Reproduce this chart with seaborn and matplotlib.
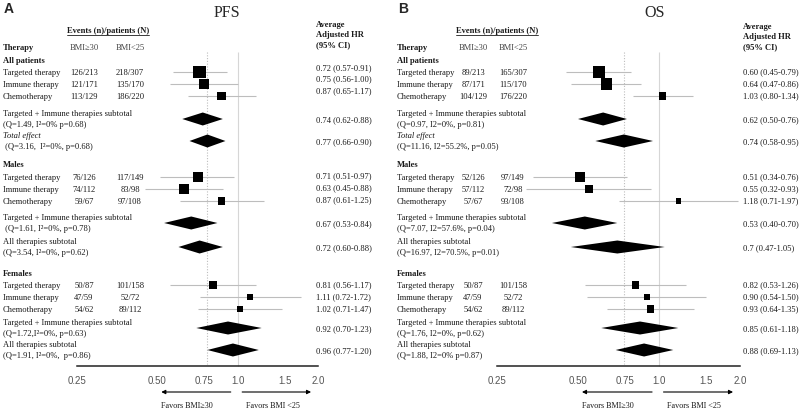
import numpy as np
import pandas as pd
import seaborn as sns
import matplotlib.pyplot as plt
from matplotlib.lines import Line2D
from matplotlib.ticker import NullLocator

# ---- data ----
therapies = ['Targeted therapy', 'Immune therapy', 'Chemotherapy']
sections = ['All patients', 'Males', 'Females']

pfs_n30 = ['126/213', '121/171', '113/129', '76/126', '74/112', '59/67', '50/87', '47/59', '54/62']
pfs_n25 = ['218/307', '135/170', '186/220', '117/149', '83/98', '97/108', '101/158', '52/72', '89/112']
pfs_est = [0.72, 0.75, 0.87, 0.71, 0.63, 0.87, 0.81, 1.11, 1.02]
pfs_lo = [0.57, 0.56, 0.65, 0.51, 0.45, 0.61, 0.56, 0.72, 0.71]
pfs_hi = [0.91, 1.00, 1.17, 0.97, 0.88, 1.25, 1.17, 1.72, 1.47]
pfs_box = [11, 9, 8, 9, 9, 6.5, 7, 5.5, 6]
pfs_sub_est = [0.74, 0.77, 0.67, 0.72, 0.92, 0.96]
pfs_sub_lo = [0.62, 0.66, 0.53, 0.60, 0.70, 0.77]
pfs_sub_hi = [0.88, 0.90, 0.84, 0.88, 1.23, 1.20]
pfs_sub_stats = ['(Q=1.49, I\u00b2=0% p=0.68)', ' (Q=3.16,  I\u00b2=0%, p=0.68)',
                 ' (Q=1.61, I\u00b2=0%, p=0.78)', '(Q=3.54, I\u00b2=0%, p=0.62)',
                 '(Q=1.72,I\u00b2=0%, p=0.63)', '(Q=1.91, I\u00b2=0%,  p=0.86)']
pfs_hr_text = ['0.72 (0.57-0.91)', '0.75 (0.56-1.00)', '0.87 (0.65-1.17)',
               '0.71 (0.51-0.97)', '0.63 (0.45-0.88)', '0.87 (0.61-1.25)',
               '0.81 (0.56-1.17)', '1.11 (0.72-1.72)', '1.02 (0.71-1.47)']
pfs_sub_text = ['0.74 (0.62-0.88)', '0.77 (0.66-0.90)', '0.67 (0.53-0.84)',
                '0.72 (0.60-0.88)', '0.92 (0.70-1.23)', '0.96 (0.77-1.20)']

os_n30 = ['89/213', '87/171', '104/129', '52/126', '57/112', '57/67', '50/87', '47/59', '54/62']
os_n25 = ['165/307', '115/170', '176/220', '97/149', '72/98', '93/108', '101/158', '52/72', '89/112']
os_est = [0.60, 0.64, 1.03, 0.51, 0.55, 1.18, 0.82, 0.90, 0.93]
os_lo = [0.45, 0.47, 0.80, 0.34, 0.32, 0.71, 0.53, 0.54, 0.64]
os_hi = [0.79, 0.86, 1.34, 0.76, 0.93, 1.97, 1.26, 1.50, 1.35]
os_box = [11, 10, 7, 9, 7, 5, 6.5, 5.5, 6.5]
os_sub_est = [0.62, 0.74, 0.53, 0.70, 0.85, 0.88]
os_sub_lo = [0.50, 0.58, 0.40, 0.47, 0.61, 0.69]
os_sub_hi = [0.76, 0.95, 0.70, 1.05, 1.18, 1.13]
os_sub_stats = ['(Q=0.97, I2=0%, p=0.81)', '(Q=11.16, I2=55.2%, p=0.05)',
                '(Q=7.07, I2=57.6%, p=0.04)', '(Q=16.97, I2=70.5%, p=0.01)',
                '(Q=1.76, I2=0%, p=0.62)', '(Q=1.88, I2=0% p=0.87)']
os_hr_text = ['0.60 (0.45-0.79)', '0.64 (0.47-0.86)', '1.03 (0.80-1.34)',
              '0.51 (0.34-0.76)', '0.55 (0.32-0.93)', '1.18 (0.71-1.97)',
              '0.82 (0.53-1.26)', '0.90 (0.54-1.50)', '0.93 (0.64-1.35)']
os_sub_text = ['0.62 (0.50-0.76)', '0.74 (0.58-0.95)', '0.53 (0.40-0.70)',
               '0.7 (0.47-1.05)', '0.85 (0.61-1.18)', '0.88 (0.69-1.13)']

sub_names = ['Targeted + Immune therapies subtotal', 'Total effect',
             'Targeted + Immune therapies subtotal', 'All therapies subtotal',
             'Targeted + Immune therapies subtotal', 'All therapies subtotal']
xticks = [0.25, 0.5, 0.75, 1.0, 1.5, 2.0]
xtick_labels = ['0.25', '0.50', '0.75', '1.0', '1.5', '2.0']

# ---- layout in pixel units (800 x 414) ----
W, H = 800, 414
section_y = [61, 165, 274]
row_y = [73, 85, 97, 178, 190, 202, 286, 298, 310]
sub_label_y = [114, 136, 218, 242, 323, 345]
axis_y = 367
pfs_hr_dy = [-5, -6, -6, -2, -2, -2, -1, -1, -1]
os_hr_dy = [-1] * 9

sns.set_style('white')
plt.rcParams['font.family'] = ['Liberation Serif', 'DejaVu Serif']
FS = 6.1
TXT = '#1a1a1a'


def fx(px):
    return px / W


def fy(py):
    return 1 - py / H


fig = plt.figure(figsize=(8, 4.14), dpi=100)


def panel(letter, title, x_title, x_lab, x_c30, x_c25, x_ev, x_hr, ax_l, ax_r, hdr_y,
          n30, n25, est, lo, hi, box, s_est, s_lo, s_hi, s_stats, hr_text, s_text, hr_dy):
    ax = fig.add_axes([fx(ax_l), 0, fx(ax_r) - fx(ax_l), 1])
    ax.set_xscale('log', base=2)
    ax.set_xlim(0.25, 2.0)
    ax.set_ylim(H, 0)

    # reference lines
    ax.vlines(1.0, 53, axis_y, color='#d6d6d6', lw=0.8)
    ax.vlines(s_est[1], 53, axis_y - 2, color='#bdbdbd', lw=0.8, linestyles=(0, (1, 1.5)))

    # study rows
    ax.hlines(row_y, lo, hi, color='#bdbdbd', lw=0.8, clip_on=False)
    df = pd.DataFrame({'hr': est, 'y': row_y})
    sizes = [(b * 1.12 * 0.72) ** 2 for b in box]
    sns.scatterplot(data=df, x='hr', y='y', marker='s', color='black', s=sizes,
                    linewidth=0, ax=ax, clip_on=False, zorder=3)

    # subtotal diamonds
    for i in range(len(s_est)):
        yc = sub_label_y[i] + 6
        ax.fill([s_lo[i], s_est[i], s_hi[i], s_est[i]], [yc, yc - 6.5, yc, yc + 6.5],
                color='black', lw=0, clip_on=False, zorder=3)

    # bottom axis
    for sp in ['top', 'left', 'right']:
        ax.spines[sp].set_visible(False)
    ax.spines['bottom'].set_position(('data', axis_y))
    ax.spines['bottom'].set_linewidth(1.1)
    ax.spines['bottom'].set_color('#222')
    ax.set_yticks([])
    ax.set_xticks(xticks)
    ax.set_xticklabels(xtick_labels)
    ax.xaxis.set_minor_locator(NullLocator())
    ax.tick_params(axis='x', direction='in', length=4.5, width=1.1, pad=6.5,
                   labelsize=7, labelcolor='#555', color='#222')
    for t in ax.get_xticklabels():
        t.set_family(['Liberation Sans', 'DejaVu Sans'])
    ax.set_xlabel('')
    ax.set_ylabel('')

    arrow = dict(arrowstyle='-|>', color='black', lw=0.8, mutation_scale=6)
    ax.annotate('', xy=(0.505, 393), xytext=(0.965, 393), arrowprops=arrow,
                annotation_clip=False)
    ax.annotate('', xy=(1.93, 393), xytext=(1.015, 393), arrowprops=arrow,
                annotation_clip=False)
    ax.text(0.645, 406, 'Favors BMI\u226530', ha='center', va='center', fontsize=5.9, color=TXT)
    ax.text(1.35, 406, 'Favors BMI <25', ha='center', va='center', fontsize=5.9, color=TXT)

    # header text
    fig.text(fx(x_lab + 1), fy(9), letter, fontsize=10, fontweight='bold',
             family=['Liberation Sans', 'DejaVu Sans'], ha='left', va='center')
    fig.text(fx(x_title), fy(13), title, fontsize=11.5, ha='center', va='center')
    fig.text(fx(x_ev), fy(31), 'Events (n)/patients (N)', fontsize=FS, fontweight='bold',
             ha='center', va='center', color=TXT)
    fig.add_artist(Line2D([fx(x_ev - 41), fx(x_ev + 41)], [fy(36), fy(36)], color=TXT, lw=0.6))
    fig.text(fx(x_lab), fy(48), 'Therapy', fontsize=FS, fontweight='bold', va='center', color=TXT)
    fig.text(fx(x_c30), fy(48), 'BMI\u226530', fontsize=FS, ha='center', va='center', color='#444')
    fig.text(fx(x_c25), fy(48), 'BMI<25', fontsize=FS, ha='center', va='center', color='#444')
    for k, line in enumerate(['Average', 'Adjusted HR', '(95% CI)']):
        fig.text(fx(x_hr), fy(hdr_y + 10 * k), line, fontsize=FS, fontweight='bold',
                 va='center', color=TXT)

    # section titles and rows
    for k, s in enumerate(sections):
        fig.text(fx(x_lab), fy(section_y[k]), s, fontsize=FS, fontweight='bold',
                 va='center', color=TXT)
    for i, y in enumerate(row_y):
        fig.text(fx(x_lab), fy(y), therapies[i % 3], fontsize=FS, va='center', color=TXT)
        fig.text(fx(x_c30), fy(y), n30[i], fontsize=FS, ha='center', va='center', color=TXT)
        fig.text(fx(x_c25), fy(y), n25[i], fontsize=FS, ha='center', va='center', color=TXT)
        fig.text(fx(x_hr), fy(y + hr_dy[i]), hr_text[i], fontsize=FS, va='center', color=TXT)
    for i, y in enumerate(sub_label_y):
        fig.text(fx(x_lab), fy(y), sub_names[i], fontsize=FS, va='center', color=TXT,
                 style='italic' if i == 1 else 'normal')
        fig.text(fx(x_lab), fy(y + 11), s_stats[i], fontsize=FS, va='center', color=TXT)
        fig.text(fx(x_hr), fy(y + 6), s_text[i], fontsize=FS, va='center', color=TXT)
    return ax


panel('A', 'PFS', 227, 3, 84, 130, 108, 316, 77, 318, 25,
      pfs_n30, pfs_n25, pfs_est, pfs_lo, pfs_hi, pfs_box,
      pfs_sub_est, pfs_sub_lo, pfs_sub_hi, pfs_sub_stats, pfs_hr_text, pfs_sub_text, pfs_hr_dy)
panel('B', 'OS', 655, 397, 473, 513, 497, 743, 497, 740, 27,
      os_n30, os_n25, os_est, os_lo, os_hi, os_box,
      os_sub_est, os_sub_lo, os_sub_hi, os_sub_stats, os_hr_text, os_sub_text, os_hr_dy)

fig.savefig('out.png', dpi=100, facecolor='white')
